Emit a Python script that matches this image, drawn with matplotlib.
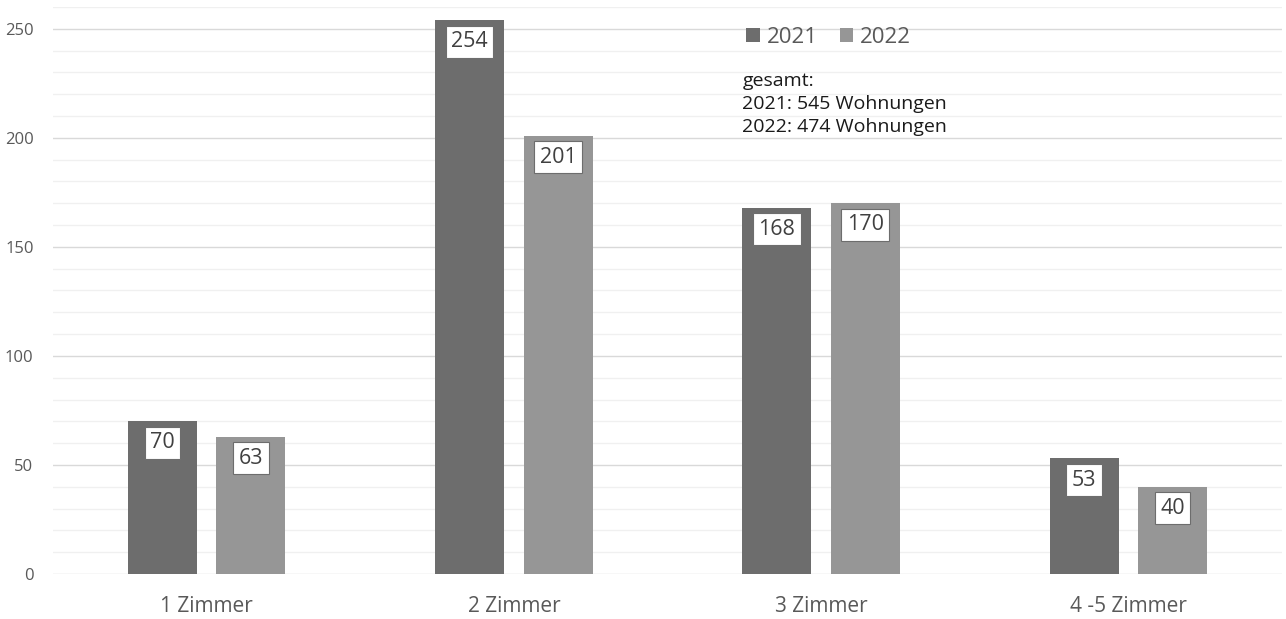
import numpy as np
import matplotlib.pyplot as plt
from matplotlib.ticker import MultipleLocator

plt.rcParams['font.family'] = ['Open Sans', 'DejaVu Sans']

categories = ['1 Zimmer', '2 Zimmer', '3 Zimmer', '4 -5 Zimmer']
years = ['2021', '2022']
values_2021 = [70, 254, 168, 53]
values_2022 = [63, 201, 170, 40]
colors = ['#6d6d6d', '#969696']

fig = plt.figure(figsize=(12.86, 6.19), dpi=100)
ax = fig.add_axes([53 / 1286, 1 - 574 / 619, 1229 / 1286, 567 / 619])

x = np.arange(len(categories))
width = 0.225
offset = 0.144

for vals, year, color, sign in zip([values_2021, values_2022], years, colors, [-1, 1]):
    bars = ax.bar(x + sign * offset, vals, width, color=color, label=year, zorder=3)
    for b, v in zip(bars, vals):
        edge = color if sign < 0 else '#6d6d6d'
        ax.annotate(str(v), (b.get_x() + b.get_width() / 2, v),
                    xytext=(0, -8), textcoords='offset points',
                    ha='center', va='top', fontsize=15.5, color='#404040', zorder=4,
                    bbox=dict(boxstyle='square,pad=0.25', fc='white', ec=edge, lw=0.8))

ax.set_xlim(-0.5, len(categories) - 0.5)
ax.set_ylim(0, 260)
ax.yaxis.set_major_locator(MultipleLocator(50))
ax.yaxis.set_minor_locator(MultipleLocator(10))
ax.grid(axis='y', which='major', color='#d9d9d9', lw=1.0, zorder=0)
ax.grid(axis='y', which='minor', color='#f0f0f0', lw=1.0, zorder=0)
ax.set_xticks(x)
ax.set_xticklabels(categories)
for s in ax.spines.values():
    s.set_visible(False)
ax.tick_params(axis='y', which='both', length=0, labelsize=12, labelcolor='#595959', pad=14)
ax.tick_params(axis='x', length=0, labelsize=15, labelcolor='#595959', pad=16)

ax.legend(loc='upper left', bbox_to_anchor=(0.548, 1.0), ncol=2, frameon=False,
          fontsize=16, handlelength=0.6, handleheight=0.6, handletextpad=0.3,
          columnspacing=1.0, labelcolor='#595959')

ax.text(0.561, 0.885, 'gesamt:\n2021: 545 Wohnungen\n2022: 474 Wohnungen',
        transform=ax.transAxes, ha='left', va='top', fontsize=14,
        color='#1a1a1a', linespacing=1.36)

fig.savefig('out.png', dpi=100)
